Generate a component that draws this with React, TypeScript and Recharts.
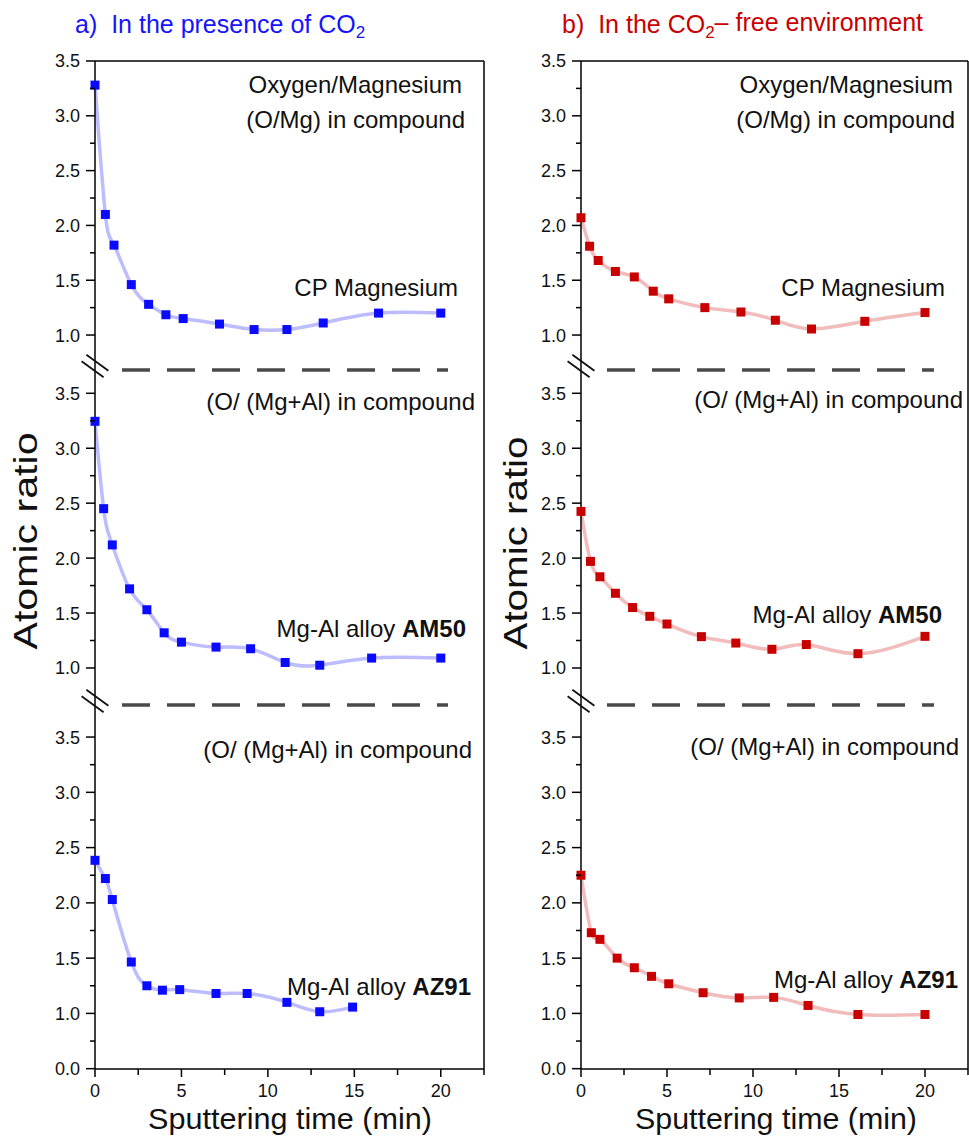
import { LineChart, Line, XAxis, YAxis, ReferenceLine } from 'recharts'

const FONT = "'Liberation Sans', Arial, Helvetica, sans-serif"

// a) in the presence of CO2
const timeCpA = [0, 0.6, 1.1, 2.1, 3.1, 4.1, 5.1, 7.2, 9.2, 11.1, 13.2, 16.4, 20]
const ratioCpA = [3.28, 2.1, 1.82, 1.46, 1.28, 1.185, 1.15, 1.1, 1.05, 1.05, 1.11, 1.2, 1.2]
const timeAm50A = [0, 0.5, 1, 2, 3, 4, 5, 7, 9, 11, 13, 16, 20]
const ratioAm50A = [3.245, 2.45, 2.12, 1.72, 1.53, 1.32, 1.235, 1.19, 1.175, 1.05, 1.025, 1.09, 1.09]
const timeAz91A = [0, 0.6, 1, 2.1, 3, 3.9, 4.9, 7, 8.8, 11.1, 13, 14.9]
const ratioAz91A = [2.385, 2.22, 2.03, 1.465, 1.25, 1.21, 1.215, 1.18, 1.18, 1.1, 1.015, 1.057]

// b) CO2-free environment
const timeCpB = [0, 0.5, 1, 2, 3.1, 4.2, 5.1, 7.2, 9.3, 11.3, 13.4, 16.5, 20]
const ratioCpB = [2.07, 1.81, 1.68, 1.58, 1.53, 1.4, 1.33, 1.25, 1.21, 1.135, 1.055, 1.125, 1.205]
const timeAm50B = [0, 0.55, 1.1, 2, 3, 4, 5, 7, 9, 11.1, 13.1, 16.1, 20]
const ratioAm50B = [2.425, 1.97, 1.83, 1.68, 1.55, 1.47, 1.4, 1.285, 1.227, 1.17, 1.213, 1.13, 1.288]
const timeAz91B = [0, 0.6, 1.1, 2.1, 3.1, 4.1, 5.1, 7.1, 9.2, 11.2, 13.2, 16.1, 20]
const ratioAz91B = [2.25, 1.73, 1.67, 1.5, 1.413, 1.335, 1.268, 1.187, 1.14, 1.145, 1.072, 0.99, 0.99]

const xTicks = [0, 2.5, 5, 7.5, 10, 12.5, 15, 17.5, 20, 22.5]
const yTicksUpper = [1, 1.25, 1.5, 1.75, 2, 2.25, 2.5, 2.75, 3, 3.25, 3.5]
const yTicksLower = [0.5, 0.75, 1, 1.25, 1.5, 1.75, 2, 2.25, 2.5, 2.75, 3, 3.25, 3.5]

const toRows = (t: number[], r: number[]) => t.map((x, i) => ({ x, y: r[i] }))

const BLUE = '#0a0aff'
const BLUE_LINE = '#bcbcff'
const RED = '#c80000'
const RED_LINE = '#f2bcbc'

const PAD = 15
const AXIS_W = 95

const YTick = (props: any) => {
  const { x, y, payload, lower } = props
  const v = payload.value
  const major = Math.abs(v * 2 - Math.round(v * 2)) < 1e-6
  // the lower panel's bottom tick is labelled 0.0 in the original (compressed scale)
  const label = lower && v === 0.5 ? '0.0' : v.toFixed(1)
  return (
    <g>
      <line x1={x - (major ? 9 : 5)} x2={x} y1={y} y2={y} stroke="#000" strokeWidth={1.5} />
      {major && (
        <text x={x - 15} y={y} dy="0.36em" textAnchor="end" fontSize={18} fontFamily={FONT} fill="#111">
          {label}
        </text>
      )}
    </g>
  )
}

const XTick = (props: any) => {
  const { x, y, payload } = props
  const v = payload.value
  const major = v % 5 === 0
  return (
    <g>
      <line x1={x} x2={x} y1={y} y2={y + (major ? 8 : 6)} stroke="#000" strokeWidth={1.5} />
      {major && (
        <text x={x} y={y + 22} dy="0.36em" textAnchor="middle" fontSize={18} fontFamily={FONT} fill="#111">
          {v}
        </text>
      )}
    </g>
  )
}

interface PanelProps {
  rows: { x: number; y: number }[]
  dotColor: string
  lineColor: string
  left: number
  plotW: number
  top: number
  bottom: number
  domain: [number, number]
  ticks: number[]
  lower?: boolean
  showX?: boolean
  frameTop?: boolean
}

const Panel = ({ rows, dotColor, lineColor, left, plotW, top, bottom, domain, ticks, lower, showX, frameTop }: PanelProps) => {
  const plotH = bottom - top
  const xH = showX ? 60 : 0
  const width = AXIS_W + plotW + 2
  const height = PAD + plotH + (showX ? xH : PAD)
  return (
    <div style={{ position: 'absolute', left: left - AXIS_W, top: top - PAD }}>
      <LineChart width={width} height={height} data={rows} margin={{ top: PAD, right: 2, bottom: showX ? 0 : PAD, left: 0 }}>
        <XAxis
          type="number"
          dataKey="x"
          domain={[0, 22.5]}
          ticks={xTicks}
          interval={0}
          hide={!showX}
          height={xH}
          axisLine={{ stroke: '#000', strokeWidth: 1.5 }}
          tickLine={false}
          tickSize={0}
          tickMargin={0}
          tick={<XTick />}
        />
        <YAxis
          type="number"
          domain={domain}
          ticks={ticks}
          interval={0}
          width={AXIS_W}
          axisLine={{ stroke: '#000', strokeWidth: 1.5 }}
          tickLine={false}
          tickSize={0}
          tickMargin={0}
          tick={<YTick lower={lower} />}
        />
        <ReferenceLine x={22.5} stroke="#000" strokeWidth={1.5} />
        {frameTop && <ReferenceLine y={3.5} stroke="#000" strokeWidth={1.5} />}
        <Line
          type="natural"
          dataKey="y"
          stroke={lineColor}
          strokeWidth={3.5}
          isAnimationActive={false}
          activeDot={false}
          dot={(p: any) => (
            <rect key={`d${p.index}`} x={p.cx - 4.5} y={p.cy - 4.5} width={9} height={9} fill={dotColor} />
          )}
        />
      </LineChart>
    </div>
  )
}

const Sub = ({ children }: { children: string }) => (
  <tspan fontSize="0.68em" dy="0.3em">{children}</tspan>
)

const BreakMark = ({ cx, cy }: { cx: number; cy: number }) => (
  <g stroke="#111" strokeWidth={1.8}>
    <line x1={cx - 2.4 - 11} y1={cy + 3.2 - 8} x2={cx - 2.4 + 11} y2={cy + 3.2 + 8} />
    <line x1={cx + 2.4 - 11} y1={cy - 3.2 - 8} x2={cx + 2.4 + 11} y2={cy - 3.2 + 8} />
  </g>
)

const Notes = ({ items }: { items: { x: number; y: number; t: any }[] }) => (
  <>
    {items.map((n, i) => (
      <text key={i} x={n.x} y={n.y} textAnchor="end" fontSize={24} fontFamily={FONT} fill="#111">
        {n.t}
      </text>
    ))}
  </>
)

export default function App() {
  const cols = [
    { axisX: 95, plotW: 389, dotColor: BLUE, lineColor: BLUE_LINE, series: [toRows(timeCpA, ratioCpA), toRows(timeAm50A, ratioAm50A), toRows(timeAz91A, ratioAz91A)] },
    { axisX: 581, plotW: 387, dotColor: RED, lineColor: RED_LINE, series: [toRows(timeCpB, ratioCpB), toRows(timeAm50B, ratioAm50B), toRows(timeAz91B, ratioAz91B)] },
  ]
  const bounds = [
    { top: 61, bottom: 370, domain: [0.681, 3.5] as [number, number], ticks: yTicksUpper },
    { top: 370, bottom: 705, domain: [0.663, 3.712] as [number, number], ticks: yTicksUpper },
    { top: 705, bottom: 1069, domain: [0.497, 3.79] as [number, number], ticks: yTicksLower },
  ]

  return (
    <div style={{ position: 'absolute', left: 0, top: 0, width: 969, height: 1136, background: '#fff', overflow: 'hidden' }}>
      {cols.map((c, ci) =>
        bounds.map((b, bi) => (
          <Panel
            key={`${ci}-${bi}`}
            rows={c.series[bi]}
            dotColor={c.dotColor}
            lineColor={c.lineColor}
            left={c.axisX}
            plotW={c.plotW}
            top={b.top}
            bottom={b.bottom}
            domain={b.domain}
            ticks={b.ticks}
            lower={bi === 2}
            showX={bi === 2}
            frameTop={bi === 0}
          />
        ))
      )}
      <svg width={969} height={1136} style={{ position: 'absolute', left: 0, top: 0, pointerEvents: 'none' }}>
        <text x={75} y={33} fontSize={25} fontFamily={FONT} fill="#1414ff">
          a){'\u00a0\u00a0'}In the presence of CO<Sub>2</Sub>
        </text>
        <text x={562} y={33} fontSize={25} fontFamily={FONT} fill="#c80000">
          b){'\u00a0\u00a0'}In the CO<Sub>2</Sub>
          <tspan dy="-0.3em">– free environment</tspan>
        </text>

        {/* dashed separators at the axis breaks */}
        {[370, 705].map((y) => (
          <g key={y}>
            <line x1={122} x2={448} y1={y} y2={y} stroke="#4a4a4a" strokeWidth={3.5} strokeDasharray="28 17" />
            <line x1={607} x2={934} y1={y} y2={y} stroke="#4a4a4a" strokeWidth={3.5} strokeDasharray="28 17" />
            <BreakMark cx={95} cy={y - 4} />
            <BreakMark cx={581} cy={y - 4} />
          </g>
        ))}

        <Notes
          items={[
            { x: 462, y: 93, t: 'Oxygen/Magnesium' },
            { x: 465, y: 128, t: '(O/Mg) in compound' },
            { x: 458, y: 296, t: 'CP Magnesium' },
            { x: 475, y: 410, t: '(O/ (Mg+Al) in compound' },
            { x: 466, y: 637, t: <>Mg-Al alloy <tspan fontWeight="bold">AM50</tspan></> },
            { x: 472, y: 758, t: '(O/ (Mg+Al) in compound' },
            { x: 471, y: 995, t: <>Mg-Al alloy <tspan fontWeight="bold">AZ91</tspan></> },
            { x: 953, y: 93, t: 'Oxygen/Magnesium' },
            { x: 955, y: 128, t: '(O/Mg) in compound' },
            { x: 945, y: 296, t: 'CP Magnesium' },
            { x: 963, y: 408, t: '(O/ (Mg+Al) in compound' },
            { x: 942, y: 623, t: <>Mg-Al alloy <tspan fontWeight="bold">AM50</tspan></> },
            { x: 959, y: 755, t: '(O/ (Mg+Al) in compound' },
            { x: 958, y: 988, t: <>Mg-Al alloy <tspan fontWeight="bold">AZ91</tspan></> },
          ]}
        />

        {/* axis titles */}
        <text transform="translate(37,541) rotate(-90)" textAnchor="middle" fontSize={33} fontFamily={FONT} fill="#111" textLength={217} lengthAdjust="spacingAndGlyphs">
          Atomic ratio
        </text>
        <text transform="translate(527,543) rotate(-90)" textAnchor="middle" fontSize={33} fontFamily={FONT} fill="#111" textLength={213} lengthAdjust="spacingAndGlyphs">
          Atomic ratio
        </text>
        <text x={290} y={1129} textAnchor="middle" fontSize={30} fontFamily={FONT} fill="#111" textLength={284} lengthAdjust="spacingAndGlyphs">
          Sputtering time (min)
        </text>
        <text x={776} y={1129} textAnchor="middle" fontSize={30} fontFamily={FONT} fill="#111" textLength={282} lengthAdjust="spacingAndGlyphs">
          Sputtering time (min)
        </text>
      </svg>
    </div>
  )
}
